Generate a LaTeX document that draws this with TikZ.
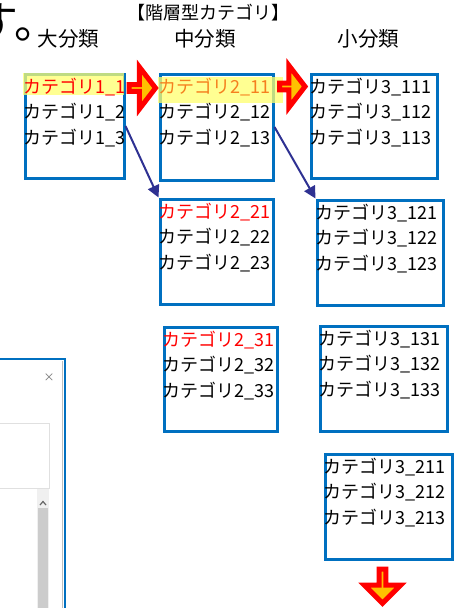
\documentclass[tikz,border=0pt]{standalone}
\usepackage{fontspec}
\setmainfont{Noto Sans CJK JP}
\usepackage{tikz}
\usetikzlibrary{calc,positioning}
\usetikzlibrary{arrows.meta}
\usetikzlibrary{shapes.arrows}

\definecolor{boxblue}{RGB}{0,112,192}
\definecolor{linknavy}{RGB}{46,49,146}
\definecolor{arrowfill}{RGB}{255,192,0}
\definecolor{hiyellow}{RGB}{255,255,110}
\definecolor{txtorange}{RGB}{245,128,30}

\begin{document}
\begin{tikzpicture}[x=1pt, y=-1pt,
	catbox/.style={rectangle, draw=boxblue, line width=3pt, anchor=north west, inner sep=0pt},
	items/.style={anchor=base west, align=left, inner sep=0pt, font=\fontsize{18}{25.5}\selectfont},
	colhead/.style={inner sep=0pt, font=\fontsize{20.5}{24}\selectfont},
	bigarrow/.style={single arrow, draw=red, fill=arrowfill, line width=5pt, inner sep=0pt, single arrow head extend=13.5pt, minimum width=42pt, single arrow tip angle=105},
	link/.style={draw=linknavy, line width=2pt, -{Triangle[length=12pt,width=12pt]}}]
			\useasboundingbox (0,0) rectangle (458,608);

			% dialog behind, cut by the page
			\fill[white] (-5,359) rectangle (65,615);
			\draw[black!25, line width=0.8pt] (62,361) -- (62,612);
			\draw[boxblue, line width=1.5pt] (-5,359) -- (65,359) -- (65,612);
			\node[text=black!55, font=\fontsize{11}{11}\selectfont] (close) at (49,378) {×};
			\draw[black!12, line width=1pt, fill=white] (-5,423) rectangle (49,488);
			\fill[black!6] (37,489) rectangle (49,612);
			\draw[black!60, line width=1.2pt] (40,505) -- (43,501.5) -- (46,505);
			\fill[black!20] (38,508) rectangle (48,612);

			% text above
			\node[anchor=base west, inner sep=0pt, font=\fontsize{44}{44}\selectfont] (prev) at (-25.5,38) {す。};
			\node[inner sep=0pt, font=\fontsize{18}{20}\selectfont] (title) at (208.5,13) {【階層型カテゴリ】};
			\node[colhead] (h1) at (68.5,39) {大分類};
			\node[colhead] (h2) at (205,39) {中分類};
			\node[colhead] (h3) at (368.5,39) {小分類};

			% boxes
			\node[catbox, minimum width=99, minimum height=104] (b1) at (23.5,72.5) {};
			\node[catbox, minimum width=113, minimum height=106] (b21) at (158.5,72.5) {};
			\node[catbox, minimum width=113, minimum height=105] (b22) at (158.5,197.5) {};
			\node[catbox, minimum width=113, minimum height=104] (b23) at (162.5,325.5) {};
			\node[catbox, minimum width=126, minimum height=104] (b31) at (309.5,72.5) {};
			\node[catbox, minimum width=126, minimum height=105] (b32) at (315.5,198.5) {};
			\node[catbox, minimum width=127, minimum height=105] (b33) at (318.5,324.5) {};
			\node[catbox, minimum width=127, minimum height=105] (b34) at (323.5,452.5) {};

			% marker
			\fill[hiyellow, fill opacity=0.75] (23,73) rectangle (124,95);
			\fill[hiyellow, fill opacity=0.75] (158,77) rectangle (283,103);

			% base anchor sits on the last line
			\node[items] (t1) at ($(b1.north west)+(0,71.5)$) {\textcolor{red}{カテゴリ1\_1}\\カテゴリ1\_2\\カテゴリ1\_3};
			\node[items] (t21) at ($(b21.north west)+(0,71.5)$) {\textcolor{txtorange}{カテゴリ2\_11}\\カテゴリ2\_12\\カテゴリ2\_13};
			\node[items] (t22) at ($(b22.north west)+(0,71.5)$) {\textcolor{red}{カテゴリ2\_21}\\カテゴリ2\_22\\カテゴリ2\_23};
			\node[items] (t23) at ($(b23.north west)+(0,71.5)$) {\textcolor{red}{カテゴリ2\_31}\\カテゴリ2\_32\\カテゴリ2\_33};
			\node[items] (t31) at ($(b31.north west)+(0,71.5)$) {カテゴリ3\_111\\カテゴリ3\_112\\カテゴリ3\_113};
			\node[items] (t32) at ($(b32.north west)+(0,71.5)$) {カテゴリ3\_121\\カテゴリ3\_122\\カテゴリ3\_123};
			\node[items] (t33) at ($(b33.north west)+(0,71.5)$) {カテゴリ3\_131\\カテゴリ3\_132\\カテゴリ3\_133};
			\node[items] (t34) at ($(b34.north west)+(0,71.5)$) {カテゴリ3\_211\\カテゴリ3\_212\\カテゴリ3\_213};

			% arrows
			\node[bigarrow, minimum height=26.5] (a1) at (141,88) {};
			\node[bigarrow, minimum height=25.5] (a2) at (291,86.5) {};
			\node[bigarrow, minimum height=34, minimum width=36, single arrow head extend=10.5pt, single arrow tip angle=90, shape border rotate=270] (a3) at (382.5,584.5) {};

			\draw[link] (b1.east) -- (b22.north west);
			\draw[link] (b21.east) -- (b32.north west);
		\end{tikzpicture}
\end{document}
